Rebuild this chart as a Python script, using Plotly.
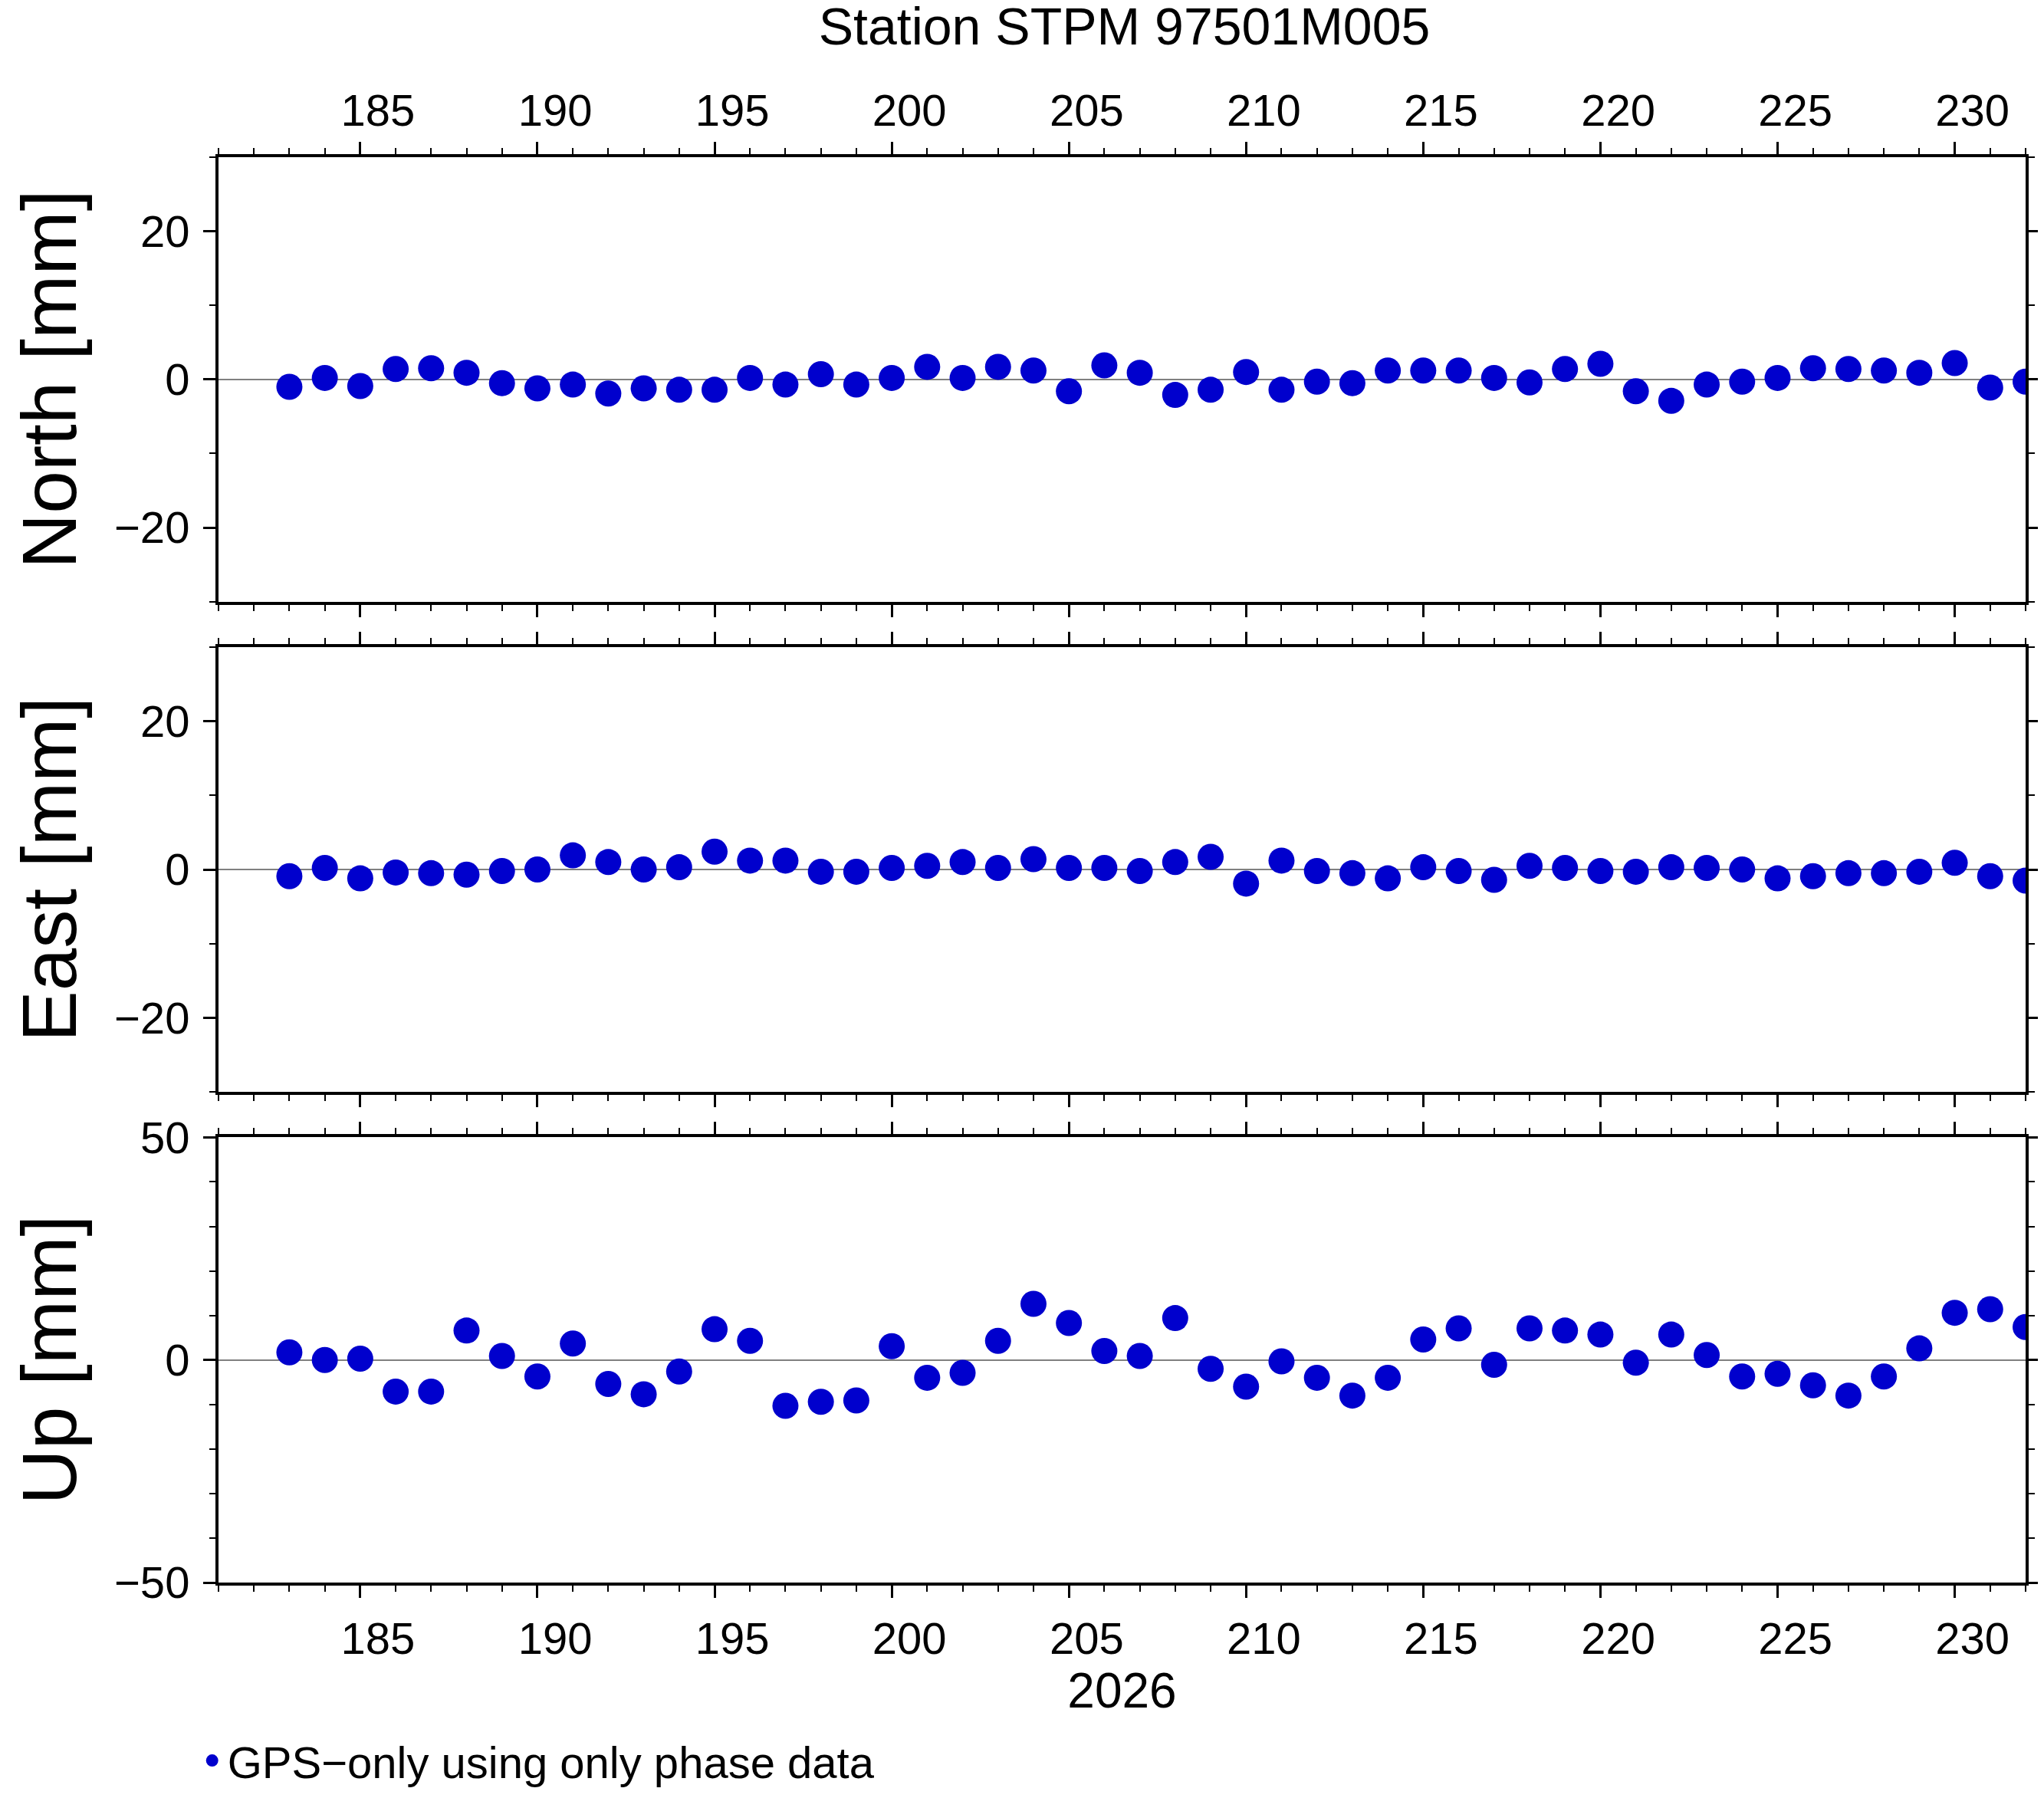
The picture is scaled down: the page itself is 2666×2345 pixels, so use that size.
import plotly.graph_objects as go
from plotly.subplots import make_subplots

days = list(range(183, 233))
north = [-1.0, 0.2, -0.9, 1.4, 1.5, 0.9, -0.5, -1.2, -0.7, -1.9,
         -1.2, -1.4, -1.4, 0.2, -0.7, 0.7, -0.7, 0.2, 1.7, 0.2,
         1.7, 1.2, -1.6, 1.9, 0.9, -2.1, -1.4, 1.0, -1.4, -0.3,
         -0.5, 1.2, 1.2, 1.2, 0.2, -0.4, 1.4, 2.1, -1.6, -2.9,
         -0.7, -0.3, 0.2, 1.5, 1.4, 1.2, 0.9, 2.2, -1.1, -0.3]
east = [-0.9, 0.2, -1.2, -0.4, -0.5, -0.7, -0.2, 0.0, 1.9, 1.0,
        0.0, 0.3, 2.4, 1.2, 1.2, -0.3, -0.3, 0.2, 0.5, 1.0,
        0.2, 1.4, 0.2, 0.2, -0.2, 1.0, 1.7, -1.9, 1.2, -0.2,
        -0.5, -1.2, 0.3, -0.2, -1.4, 0.5, 0.2, -0.2, -0.3, 0.3,
        0.2, 0.0, -1.2, -0.9, -0.5, -0.5, -0.3, 0.9, -0.9, -1.5]
up = [1.7, 0.0, 0.3, -7.1, -7.1, 6.6, 0.9, -3.7, 3.7, -5.4,
      -7.7, -2.6, 6.9, 4.3, -10.3, -9.4, -9.1, 3.1, -4.0, -2.9,
      4.3, 12.6, 8.3, 2.0, 0.9, 9.4, -2.0, -6.0, -0.3, -4.0,
      -8.0, -4.0, 4.6, 7.1, -1.1, 7.1, 6.6, 5.7, -0.6, 5.7,
      1.1, -3.7, -3.1, -5.7, -8.0, -3.7, 2.6, 10.6, 11.4, 7.4]

major_days = list(range(185, 231, 5))
label_pos = [d + 0.5 for d in major_days]
label_text = [str(d) for d in major_days]
x_range = [181, 232]

FONT = "Liberation Sans, Arial, sans-serif"
BLUE = "#0000CD"
W, H = 2666, 2345
L, R, T, B = 277, 26, 197, 259
ph = H - T - B

fig = make_subplots(rows=3, cols=1)

panels = [("North [mm]", north, [-30, 30], [-20, 0, 20]),
          ("East [mm]", east, [-30, 30], [-20, 0, 20]),
          ("Up [mm]", up, [-50, 50], [-50, 0, 50])]
domains = [[1300 / ph, 1], [650 / ph, 1240 / ph], [0, 590 / ph]]

for i, (name, vals, yr, yt) in enumerate(panels):
    fig.add_trace(go.Scatter(x=days, y=vals, mode="markers",
                             marker=dict(size=34, color=BLUE),
                             name="GPS\u2212only using only phase data",
                             showlegend=(i == 0)), row=i + 1, col=1)
    ax = dict(range=x_range, tickvals=major_days, showticklabels=False,
              ticks="outside", ticklen=16, tickwidth=3, tickcolor="black",
              minor=dict(dtick=1, tick0=0, ticklen=8, tickwidth=2, ticks="outside", tickcolor="black"),
              showline=True, linecolor="black", linewidth=4, mirror="ticks",
              showgrid=False, zeroline=False)
    fig.update_xaxes(ax, row=i + 1, col=1)
    fig.update_yaxes(dict(range=yr, tickvals=yt, ticks="outside", ticklen=16, tickwidth=3,
                          tickcolor="black",
                          minor=dict(dtick=10, tick0=0, ticklen=8, tickwidth=2, ticks="outside", tickcolor="black"),
                          showline=True, linecolor="black", linewidth=4, mirror="ticks",
                          showgrid=False, zeroline=True, zerolinecolor="#808080", zerolinewidth=1.5,
                          domain=domains[i], ticklabelstandoff=6,
                          title=dict(text=name, font=dict(size=100, family=FONT), standoff=22),
                          tickfont=dict(size=58, family=FONT, color="black")),
                     row=i + 1, col=1)

# tick label axes (labels centred mid-day, as in the original)
lab = dict(range=x_range, tickvals=label_pos, ticktext=label_text, ticks="",
           showline=False, showgrid=False, zeroline=False,
           tickfont=dict(size=58, family=FONT, color="black"))
fig.update_layout(
    xaxis4=dict(lab, overlaying="x", anchor="y", side="top", ticklabelstandoff=28),
    xaxis5=dict(lab, overlaying="x3", anchor="y3", side="bottom", ticklabelstandoff=34,
                title=dict(text="2026", font=dict(size=64, family=FONT, color="black"), standoff=2)),
)
fig.add_trace(go.Scatter(x=[], y=[], xaxis="x4", yaxis="y", showlegend=False))
fig.add_trace(go.Scatter(x=[], y=[], xaxis="x5", yaxis="y3", showlegend=False))

fig.update_layout(
    width=W, height=H,
    margin=dict(l=L, r=R, t=T, b=B),
    plot_bgcolor="white", paper_bgcolor="white",
    font=dict(family=FONT, color="black"),
    title=dict(text="Station STPM 97501M005", x=(L + (W - R - L) / 2) / W, xanchor="center",
               y=1 - 2 / H, yanchor="top", font=dict(size=68, family=FONT, color="black")),
    legend=dict(orientation="h", x=-0.012, y=-0.125, xanchor="left", yanchor="middle",
                font=dict(size=58, family=FONT, color="black"), bgcolor="rgba(0,0,0,0)"),
)

fig.write_html("out.html")
